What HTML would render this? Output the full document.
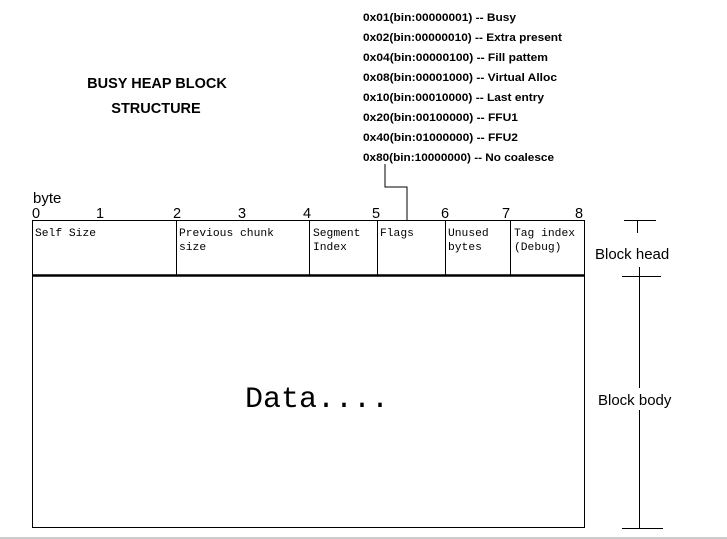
<!DOCTYPE html>
<html><head><style>html,body{margin:0;padding:0;background:#fff}svg{display:block}</style></head>
<body>
<svg width="727" height="539" xmlns="http://www.w3.org/2000/svg">
<rect width="727" height="539" fill="#fff"/>
<g font-family="Liberation Sans, sans-serif" font-weight="bold" font-size="14.5" text-anchor="middle">
<text x="157" y="88">BUSY HEAP BLOCK</text>
<text x="156" y="113">STRUCTURE</text>
</g>
<g font-family="Liberation Sans, sans-serif" font-weight="bold" font-size="11">
<text x="363" y="21" textLength="153" lengthAdjust="spacingAndGlyphs">0x01(bin:00000001) -- Busy</text>
<text x="363" y="41" textLength="199" lengthAdjust="spacingAndGlyphs">0x02(bin:00000010) -- Extra present</text>
<text x="363" y="61" textLength="185" lengthAdjust="spacingAndGlyphs">0x04(bin:00000100) -- Fill pattem</text>
<text x="363" y="81" textLength="194" lengthAdjust="spacingAndGlyphs">0x08(bin:00001000) -- Virtual Alloc</text>
<text x="363" y="101" textLength="181" lengthAdjust="spacingAndGlyphs">0x10(bin:00010000) -- Last entry</text>
<text x="363" y="121" textLength="155" lengthAdjust="spacingAndGlyphs">0x20(bin:00100000) -- FFU1</text>
<text x="363" y="141" textLength="155" lengthAdjust="spacingAndGlyphs">0x40(bin:01000000) -- FFU2</text>
<text x="363" y="161" textLength="191" lengthAdjust="spacingAndGlyphs">0x80(bin:10000000) -- No coalesce</text>
</g>
<polyline points="385,164 385,187 407,187 407,220" fill="none" stroke="#000" stroke-width="1"/>
<g font-family="Liberation Sans, sans-serif" font-size="15">
<text x="33" y="203">byte</text>
</g>
<g font-family="Liberation Sans, sans-serif" font-size="14.5" text-anchor="middle">
<text x="36" y="218">0</text><text x="100" y="218">1</text><text x="177" y="218">2</text>
<text x="242" y="218">3</text><text x="307" y="218">4</text><text x="376" y="218">5</text>
<text x="445" y="218">6</text><text x="506" y="218">7</text><text x="579" y="218">8</text>
</g>
<g stroke="#000" fill="none">
<rect x="32.5" y="220.5" width="552" height="307" stroke-width="1"/>
<line x1="32" y1="275.5" x2="585" y2="275.5" stroke-width="2.5"/>
<line x1="176.5" y1="220" x2="176.5" y2="275"/>
<line x1="309.5" y1="220" x2="309.5" y2="275"/>
<line x1="377.5" y1="220" x2="377.5" y2="275"/>
<line x1="445.5" y1="220" x2="445.5" y2="275"/>
<line x1="510.5" y1="220" x2="510.5" y2="275"/>
<line x1="624" y1="220.5" x2="656" y2="220.5"/>
<line x1="637.5" y1="220" x2="637.5" y2="233"/>
<line x1="622" y1="276.5" x2="661" y2="276.5"/>
<line x1="639.5" y1="267" x2="639.5" y2="388"/>
<line x1="639.5" y1="410" x2="639.5" y2="528"/>
<line x1="622" y1="528.5" x2="663" y2="528.5"/>
</g>
<line x1="0" y1="538" x2="727" y2="538" stroke="#999" stroke-width="1"/>
<g font-family="Liberation Mono, monospace" font-size="11.3">
<text x="35" y="236">Self Size</text>
<text x="179" y="236">Previous chunk</text><text x="179" y="250">size</text>
<text x="313" y="236">Segment</text><text x="313" y="250">Index</text>
<text x="380" y="236">Flags</text>
<text x="448" y="236">Unused</text><text x="448" y="250">bytes</text>
<text x="514" y="236">Tag index</text><text x="514" y="250">(Debug)</text>
</g>
<text x="245" y="407" font-family="Liberation Mono, monospace" font-size="30" textLength="144" lengthAdjust="spacingAndGlyphs">Data....</text>
<g font-family="Liberation Sans, sans-serif" font-size="15">
<text x="595" y="259">Block head</text>
<text x="598" y="405">Block body</text>
</g>
</svg>
</body></html>
